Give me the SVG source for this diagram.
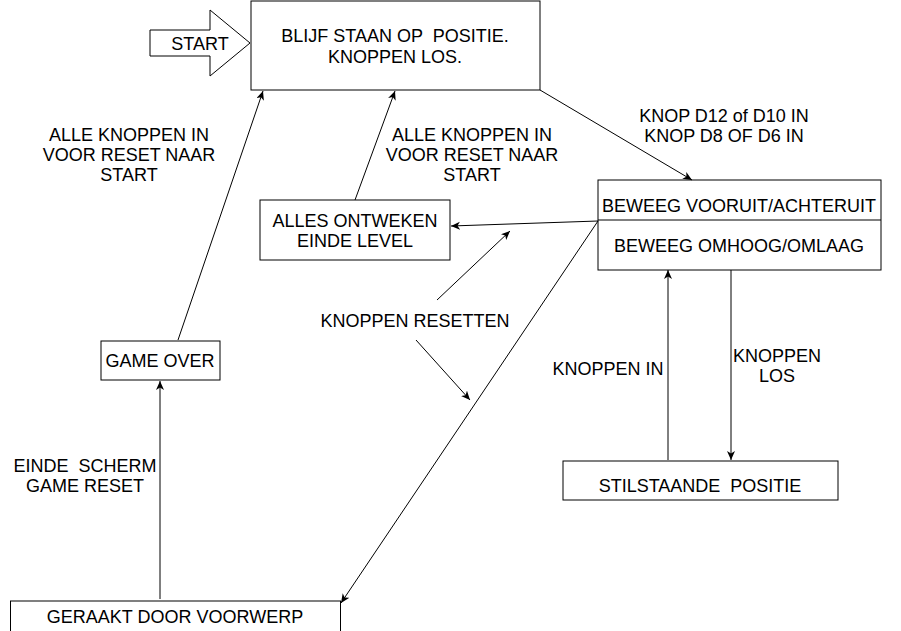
<svg xmlns="http://www.w3.org/2000/svg" width="901" height="631" viewBox="0 0 901 631">
<style>
text{font-family:"Liberation Sans",Arial,sans-serif;font-size:18px;fill:#000;text-anchor:middle;white-space:pre}
.box{fill:#fff;stroke:#000;stroke-width:1}
.edge{fill:none;stroke:#000;stroke-width:1;marker-end:url(#arr)}
</style>
<defs>
<marker id="arr" markerUnits="userSpaceOnUse" markerWidth="10" markerHeight="10" refX="9" refY="4" orient="auto">
<path d="M0,0 L9,4 L0,8 L2.5,4 Z" fill="#000"/>
</marker>
</defs>
<rect width="901" height="631" fill="#fff"/>
<g id="start">
<polygon class="box" points="150,30 210,30 210,10 250,43 210,76 210,56 150,56"/>
<text x="200" y="50">START</text>
</g>
<g id="blijf">
<rect class="box" x="251" y="1" width="289" height="89"/>
<text x="395" y="42">BLIJF STAAN OP  POSITIE.</text>
<text x="395" y="63">KNOPPEN LOS.</text>
</g>
<g id="beweeg">
<rect class="box" x="598" y="180" width="283" height="90"/>
<line x1="598" y1="220" x2="881" y2="220" stroke="#000"/>
<text x="739" y="212">BEWEEG VOORUIT/ACHTERUIT</text>
<text x="739" y="252">BEWEEG OMHOOG/OMLAAG</text>
</g>
<g id="alles">
<rect class="box" x="260" y="200" width="190" height="60"/>
<text x="355" y="227">ALLES ONTWEKEN</text>
<text x="355" y="247">EINDE LEVEL</text>
</g>
<g id="gameover">
<rect class="box" x="101" y="341" width="119" height="39"/>
<text x="160" y="367">GAME OVER</text>
</g>
<g id="stil">
<rect class="box" x="563" y="461" width="275" height="39"/>
<text x="700" y="492">STILSTAANDE  POSITIE</text>
</g>
<g id="geraakt">
<rect class="box" x="10.5" y="601" width="330" height="40"/>
<text x="175" y="623">GERAAKT DOOR VOORWERP</text>
</g>
<g id="connectors">
<path class="edge" d="M540,90 L692,180"/>
<path class="edge" d="M598,221 L451,226"/>
<path class="edge" d="M598,221 L341,603"/>
<path class="edge" d="M355,200 L395,91"/>
<path class="edge" d="M178,340 L263,91"/>
<path class="edge" d="M160,599 L160,381"/>
<path class="edge" d="M668,460 L668,270"/>
<path class="edge" d="M731,270 L731,460"/>
<path class="edge" d="M437,300 L510,231"/>
<path class="edge" d="M416,340 L470,400"/>
</g>
<g id="labels">
<text x="724" y="122">KNOP D12 of D10 IN</text>
<text x="724" y="142">KNOP D8 OF D6 IN</text>
<text x="472" y="141">ALLE KNOPPEN IN</text>
<text x="472" y="161">VOOR RESET NAAR</text>
<text x="472" y="181">START</text>
<text x="129" y="141">ALLE KNOPPEN IN</text>
<text x="129" y="161">VOOR RESET NAAR</text>
<text x="129" y="181">START</text>
<text x="415" y="327">KNOPPEN RESETTEN</text>
<text x="608" y="375">KNOPPEN IN</text>
<text x="777" y="362">KNOPPEN</text>
<text x="777" y="382">LOS</text>
<text x="85" y="472">EINDE  SCHERM</text>
<text x="85" y="492">GAME RESET</text>
</g>
</svg>
